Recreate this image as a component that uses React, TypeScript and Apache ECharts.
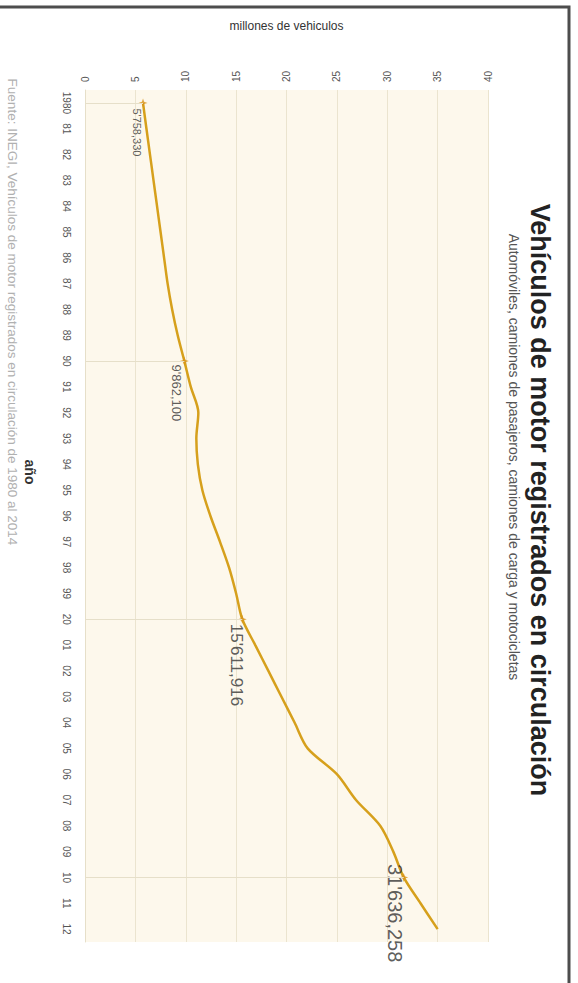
import React, { useEffect, useRef } from "react";
import * as echarts from "echarts";

const yearLabels = [
  "1980", "81", "82", "83", "84", "85", "86", "87", "88", "89",
  "90", "91", "92", "93", "94", "95", "96", "97", "98", "99",
  "20", "01", "02", "03", "04", "05", "06", "07", "08", "09",
  "10", "11", "12",
];

// millones de vehículos
const vehicles = [
  5.75833, 6.1, 6.45, 6.8, 7.15, 7.5, 7.85, 8.2, 8.65, 9.2,
  9.8621, 10.5, 11.25, 11.05, 11.2, 11.65, 12.45, 13.4, 14.3, 15.0,
  15.611916, 16.9, 18.2, 19.5, 20.8, 22.1, 25.0, 26.9, 29.3, 30.6,
  31.636258, 33.3, 35.0,
];

const markedYears = ["1980", "90", "20", "10"];
const markedValues = [5.75833, 9.8621, 15.611916, 31.636258];

const valueTicks = [0, 5, 10, 15, 20, 25, 30, 35, 40];

const titleText = "Vehículos de motor registrados en circulación";
const subtitleText = "Automóviles, camiones de pasajeros, camiones de carga y motocicletas";
const valueAxisName = "millones de vehiculos";
const categoryAxisName = "año";
const sourceText = "Fuente: INEGI, Vehículos de motor registrados en circulación de 1980 al 2014";

// styles for the point labels (size and offset)
const labelStyles = [
  { fontSize: 11, position: [-2, 10] },
  { fontSize: 13, position: [-3, 8] },
  { fontSize: 17, position: [-1, 9] },
  { fontSize: 20, position: [-4, -9] },
];

const FONT = "Liberation Sans";
const LINE_COLOR = "#d6a01c";

function fmt(v: number): string {
  const n = Math.round(v * 1e6);
  const s = String(n);
  const last3 = s.slice(-3);
  const mid3 = s.slice(-6, -3);
  const head = s.slice(0, -6);
  return head + "'" + mid3 + "," + last3;
}

export default function App() {
  const ref = useRef<HTMLDivElement>(null);
  useEffect(() => {
    if (!ref.current) return;
    const chart = echarts.init(ref.current, undefined, { renderer: "svg" });
    const scatterData = markedYears.map((y, i) => ({
      value: [markedValues[i], y],
      label: {
        show: true,
        formatter: fmt(markedValues[i]),
        fontSize: labelStyles[i].fontSize,
        position: labelStyles[i].position,
        rotate: -90,
        align: "left",
        verticalAlign: "middle",
        color: "#333",
        fontFamily: FONT,
      },
    }));
    const dropLines = markedYears.map((y, i) => [
      { coord: [0, y] },
      { coord: [markedValues[i], y] },
    ]);
    chart.setOption({
      animation: false,
      backgroundColor: "#ffffff",
      textStyle: { fontFamily: FONT },
      grid: {
        left: 85,
        top: 90,
        width: 403,
        height: 852,
        show: true,
        backgroundColor: "#fdf8ec",
        borderWidth: 0,
      },
      xAxis: {
        type: "value",
        position: "top",
        min: valueTicks[0],
        max: valueTicks[valueTicks.length - 1],
        interval: 5,
        name: valueAxisName,
        nameLocation: "middle",
        nameGap: 58,
        nameTextStyle: { fontSize: 12, color: "#333", fontFamily: FONT },
        axisLine: { show: false },
        axisTick: { show: false },
        axisLabel: { rotate: -90, margin: 8, fontSize: 10, color: "#555", fontFamily: FONT },
        splitLine: { show: true, lineStyle: { color: "#ebe4cf", width: 1 } },
      },
      yAxis: {
        type: "category",
        data: yearLabels,
        inverse: true,
        boundaryGap: true,
        axisLine: { show: true, lineStyle: { color: "#e6dfc9" } },
        axisTick: { show: false },
        axisLabel: { rotate: -90, margin: 14, fontSize: 10, color: "#555", fontFamily: FONT, interval: 0 },
        splitLine: { show: false },
      },
      series: [
        {
          type: "line",
          data: vehicles.map((v, i) => [v, yearLabels[i]]),
          smooth: 0.3,
          symbol: "none",
          lineStyle: { color: LINE_COLOR, width: 2.5 },
          z: 3,
        },
        {
          type: "scatter",
          data: scatterData,
          symbol:
            "path://M0,-10 L2.5,-2.5 L10,0 L2.5,2.5 L0,10 L-2.5,2.5 L-10,0 L-2.5,-2.5 Z",
          symbolSize: 9,
          itemStyle: { color: "#d8941a" },
          z: 4,
          markLine: {
            silent: true,
            symbol: "none",
            label: { show: false },
            lineStyle: { color: "#e6dfc9", width: 1, type: "solid" },
            data: dropLines,
          },
        },
      ],
      graphic: [
        {
          type: "rect",
          shape: { x: -10, y: 7, width: 579, height: 1000 },
          style: { fill: "none", stroke: "#4d4d4d", lineWidth: 3 },
          silent: true,
        },
        {
          type: "text",
          x: 540,
          y: 500,
          rotation: -Math.PI / 2,
          style: {
            text: titleText,
            fontSize: 27,
            fontWeight: "bold",
            fill: "#222",
            align: "center",
            verticalAlign: "middle",
            fontFamily: FONT,
          },
        },
        {
          type: "text",
          x: 514,
          y: 457,
          rotation: -Math.PI / 2,
          style: {
            text: subtitleText,
            fontSize: 14,
            fill: "#555",
            align: "center",
            verticalAlign: "middle",
            fontFamily: FONT,
          },
        },
        {
          type: "text",
          x: 30,
          y: 472,
          rotation: -Math.PI / 2,
          style: {
            text: categoryAxisName,
            fontSize: 14,
            fontWeight: "bold",
            fill: "#333",
            align: "center",
            verticalAlign: "middle",
            fontFamily: FONT,
          },
        },
        {
          type: "text",
          x: 12,
          y: 312,
          rotation: -Math.PI / 2,
          style: {
            text: sourceText,
            fontSize: 13.5,
            fill: "#b0b0b0",
            align: "center",
            verticalAlign: "middle",
            fontFamily: FONT,
          },
        },
      ],
    });
    return () => chart.dispose();
  }, []);
  return (
    <div
      style={{ position: "fixed", left: 0, top: 0, width: 578, height: 983, background: "#fff" }}
    >
      <div ref={ref} style={{ width: 578, height: 983 }} />
    </div>
  );
}
